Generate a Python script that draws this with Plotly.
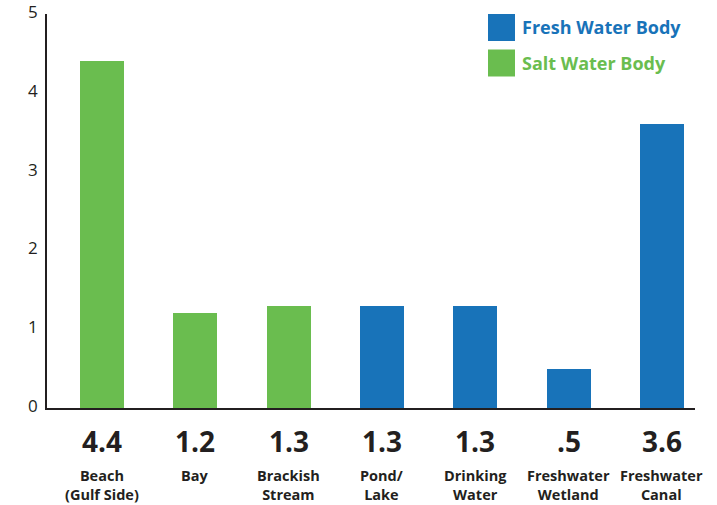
import plotly.graph_objects as go

names = ["Beach<br>(Gulf Side)", "Bay", "Brackish<br>Stream", "Pond/<br>Lake",
         "Drinking<br>Water", "Freshwater<br>Wetland", "Freshwater<br>Canal"]
values = [4.4, 1.2, 1.3, 1.3, 1.3, 0.5, 3.6]
body_type = ["Salt", "Salt", "Salt", "Fresh", "Fresh", "Fresh", "Fresh"]
legend_labels = ["Fresh Water Body", "Salt Water Body"]
y_ticks = [0, 1, 2, 3, 4, 5]

GREEN = "#6ABD4F"
BLUE = "#1873B9"
DARK = "#231F20"
colors = {"Salt": GREEN, "Fresh": BLUE}

W, H = 717, 505
PL, PR, PT, PB = 47, 695, 14, 408  # plot area in pixels


def px(x):
    return (x - PL) / (PR - PL)


def py(y):
    return (PB - y) / (PB - PT)


xs = list(range(len(values)))

fig = go.Figure()
fig.add_trace(go.Bar(
    x=xs, y=values, width=0.47,
    marker=dict(color=[colors[t] for t in body_type], line=dict(width=0)),
    showlegend=False, hoverinfo="skip",
))


def fmt(v):
    s = f"{v:.1f}"
    return s[1:] if s.startswith("0") else s


annotations = []
for x, v, n in zip(xs, values, names):
    annotations.append(dict(x=x, xref="x", y=py(441), yref="paper", text="<b>" + fmt(v) + "</b>",
                            showarrow=False, yanchor="middle",
                            font=dict(family="Liberation Sans Narrow, Open Sans", size=28, color=DARK)))
    annotations.append(dict(x=x, xref="x", y=py(464), yref="paper", text="<b>" + n + "</b>",
                            showarrow=False, yanchor="top", align="center",
                            font=dict(family="Open Sans", size=14.5, color=DARK)))

leg_colors = [BLUE, GREEN]
shapes = []
for i, (lab, c) in enumerate(zip(legend_labels, leg_colors)):
    top = 14 + i * 35.5
    shapes.append(dict(type="rect", xref="paper", yref="paper",
                       x0=px(488), x1=px(515), y0=py(top), y1=py(top + 27),
                       fillcolor=c, line=dict(width=0)))
    annotations.append(dict(x=px(520), xref="paper", y=py(top + 13.5), yref="paper",
                            text="<b>" + lab + "</b>", showarrow=False,
                            xanchor="left", yanchor="middle",
                            font=dict(family="Open Sans", size=18, color=c)))

fig.update_layout(
    width=W, height=H,
    margin=dict(l=PL, r=W - PR, t=PT, b=H - PB, autoexpand=False),
    plot_bgcolor="white", paper_bgcolor="white",
    xaxis=dict(range=[-0.589, 6.354], showticklabels=False, ticks="", showgrid=False,
               zeroline=False, showline=True, linecolor=DARK, linewidth=1.5, automargin=False),
    yaxis=dict(range=[0, 5], tickvals=y_ticks, showgrid=False, zeroline=False,
               showline=True, linecolor=DARK, linewidth=1.5, ticks="", automargin=False,
               ticklabelstandoff=4, ticklabelshift=-2, ticklabeloverflow="allow",
               tickfont=dict(family="Open Sans", size=17, color=DARK)),
    annotations=annotations, shapes=shapes,
    bargap=0,
)

fig.write_html("out.html", config={"displayModeBar": False},
               post_script="document.body.style.margin='0';document.body.style.overflow='hidden';")
